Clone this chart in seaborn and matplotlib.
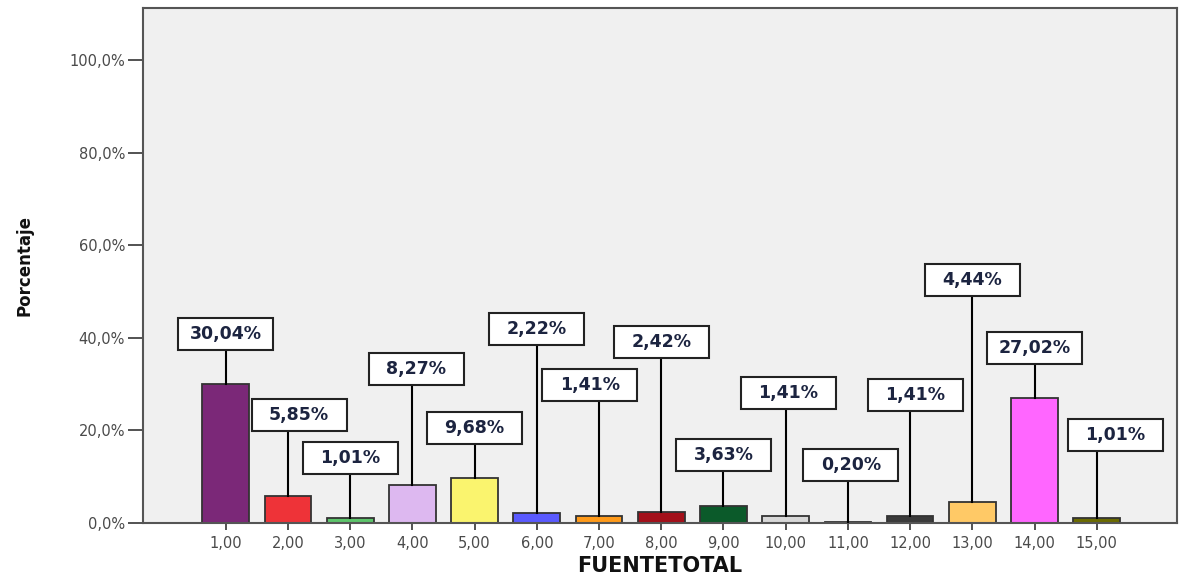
import numpy as np
import matplotlib
matplotlib.use("Agg")
import matplotlib.pyplot as plt
from matplotlib.patches import Rectangle
import seaborn as sns
import pandas as pd

# Datos del gráfico
categorias = ["1,00", "2,00", "3,00", "4,00", "5,00", "6,00", "7,00", "8,00",
              "9,00", "10,00", "11,00", "12,00", "13,00", "14,00", "15,00"]
porcentajes = [30.04, 5.85, 1.01, 8.27, 9.68, 2.22, 1.41, 2.42,
               3.63, 1.41, 0.20, 1.41, 4.44, 27.02, 1.01]
colores = ["#7b2878", "#ee3338", "#5cc46a", "#ddb8f0", "#faf46e", "#5a5aff",
           "#ff9a1a", "#a3101a", "#0b5a2a", "#d8d8d8", "#3a3a3a", "#3a3a3a",
           "#ffc966", "#ff66ff", "#6b6b00"]
y_ticks = [0, 20, 40, 60, 80, 100]

# Posición de las etiquetas (centro de la caja, en % y desplazamiento en x)
etiqueta_y = [40.8, 23.3, 14.0, 33.3, 20.5, 41.9, 29.8, 39.1,
              14.7, 28.1, 12.5, 27.6, 52.5, 37.8, 19.0]
etiqueta_dx = [0, 0.18, 0, 0.06, 0, 0, -0.15, 0, 0, 0.04, 0.05, 0.08, 0, 0, 0.3]

df = pd.DataFrame({"cat": categorias, "pct": porcentajes})

W, H, DPI = 11.83, 5.77, 100
fig = plt.figure(figsize=(W, H), dpi=DPI)
ax = fig.add_axes([143 / 1183, 54 / 577, 1034 / 1183, 515 / 577])
ax.set_facecolor("#f0f0f0")

sns.barplot(data=df, x="cat", y="pct", hue="cat", palette=colores,
            saturation=1, legend=False, width=0.75, edgecolor="#333333",
            linewidth=1.3, ax=ax, zorder=2)

xmin, xmax = -1.33, 15.29
ymin, ymax = 0, 111.3
ax.set_xlim(xmin, xmax)
ax.set_ylim(ymin, ymax)

# tamaño de caja fijo en pixeles -> unidades de datos
px_x = (xmax - xmin) / 1034
px_y = (ymax - ymin) / 515
box_w = 95 * px_x
box_h = 32 * px_y

for i, v in enumerate(porcentajes):
    cx = i + etiqueta_dx[i]
    cy = etiqueta_y[i]
    ax.plot([i, i], [v, cy - box_h / 2], color="black", lw=1.5, zorder=3)
    ax.add_patch(Rectangle((cx - box_w / 2, cy - box_h / 2), box_w, box_h,
                           facecolor="white", edgecolor="#222222", lw=1.5, zorder=4))
    txt = f"{v:.2f}%".replace(".", ",")
    ax.text(cx, cy, txt, ha="center", va="center", fontsize=12.5,
            fontweight="bold", color="#1c2440", zorder=5)

ax.set_yticks(y_ticks)
ax.set_yticklabels([f"{t:.1f}%".replace(".", ",") for t in y_ticks])
ax.tick_params(axis="y", length=11, width=1.3, color="#444444",
               labelsize=10.5, labelcolor="#4a4a4a", pad=2)
ax.tick_params(axis="x", length=5, width=1.3, color="#444444",
               labelsize=10.5, labelcolor="#4a4a4a", pad=4)

for s in ax.spines.values():
    s.set_color("#555555")
    s.set_linewidth(1.5)

ax.set_xlabel("FUENTETOTAL", fontsize=15, fontweight="bold", color="#111111")
ax.xaxis.set_label_coords(0.5, -0.064)
ax.set_ylabel("Porcentaje", fontsize=12, fontweight="bold", color="#111111")
ax.yaxis.set_label_coords(-0.106, 0.5)

fig.savefig("out.png", dpi=DPI)
plt.close(fig)
